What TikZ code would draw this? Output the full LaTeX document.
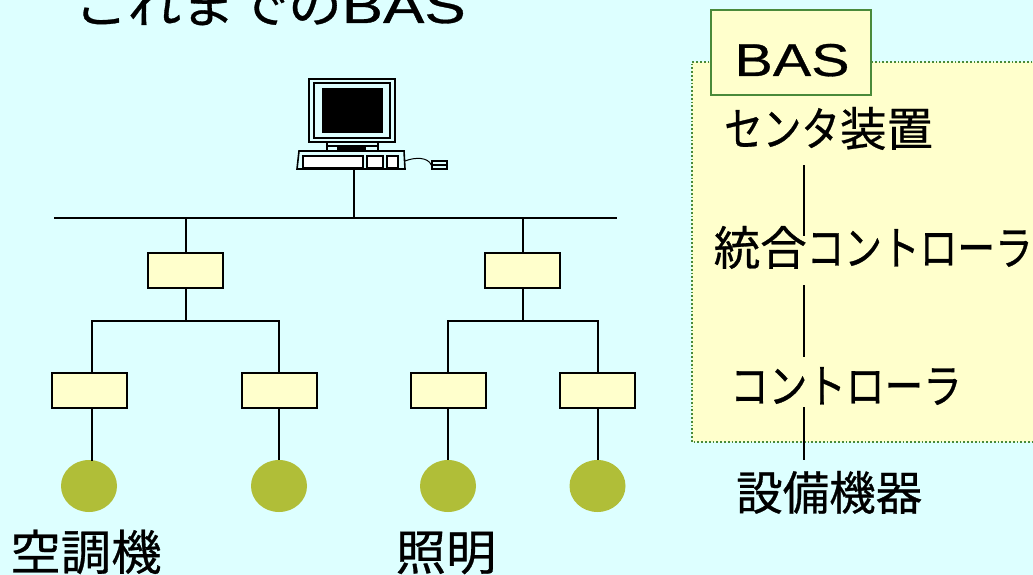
\documentclass[tikz,border=0pt]{standalone}
\usepackage{fontspec}
\setmainfont{Liberation Sans}[FakeBold=0.6,AutoFakeBold=false]
\newfontfamily\jpfont{Noto Sans CJK JP}[FakeBold=0.6]
\definecolor{bgc}{HTML}{DDFFFF}
\definecolor{panelc}{HTML}{FFFFCC}
\definecolor{grn}{HTML}{4A8A3A}
\definecolor{olive}{HTML}{B0BE38}
\newcommand{\kata}[1]{\scalebox{0.83}[1]{#1}}
\newcommand{\katb}[1]{\scalebox{0.81}[1]{#1}}
\tikzset{
 box/.style={draw=black,fill=panelc,line width=2pt,minimum width=75pt,minimum height=35pt,inner sep=0pt},
 dev/.style={ellipse,fill=olive,minimum width=56pt,minimum height=52pt,inner sep=0pt},
 wire/.style={line width=2pt,black},
 lbl/.style={inner sep=0pt,font=\jpfont\fontsize{46.5}{46.5}\selectfont},
 lblwide/.style={inner sep=0pt,font=\jpfont\fontsize{48}{48}\selectfont,xscale=1.05,transform shape},
 pc/.style={line width=1.6pt,black},
 key/.style={draw=black,line width=1.6pt,fill=white,minimum height=12pt,inner sep=0pt},
}
\usetikzlibrary{shapes.geometric,calc}
\begin{document}
\begin{tikzpicture}[x=1pt,y=-1pt]
\useasboundingbox (0,0) rectangle (1033,575);
\clip (0,0) rectangle (1033,575);
\fill[bgc] (0,0) rectangle (1033,575);
% title
\node[inner sep=0pt,anchor=base west,font=\jpfont\fontsize{50}{50}\selectfont] (title) at (74,23) {\scalebox{1.07}[1]{これまでの}\scalebox{1.24}[1]{\rmfamily BAS}};
% panel
\draw[grn,dotted,line width=1.8pt,fill=panelc] (1040,62) -- (692,62) -- (692,442) -- (1040,442);
\node[draw=grn,fill=panelc,line width=2pt,minimum width=160pt,minimum height=85pt,inner sep=0pt] (bas) at (791,52.5) {};
\node[inner sep=0pt,anchor=base,font=\rmfamily\fontsize{46}{46}\selectfont,xscale=1.25,transform shape] (bastxt) at (792,76) {BAS};
% computer
\draw[pc,fill=bgc] (309,79) rectangle (395,142);
\draw[pc,fill=bgc] (314,83) rectangle (390,138);
\fill[black] (322,88) rectangle (383,133);
\draw[pc,fill=bgc] (327,142) rectangle (378,151);
\draw[pc] (327,146) -- (378,146);
\fill[black] (337,146) rectangle (366,151);
\draw[pc,fill=bgc] (299,151) -- (404,151) -- (405,169) -- (297,169) -- cycle;
\node[key,minimum width=60pt] (k1) at (333,162) {};
\node[key,minimum width=16pt] (k2) at (375,162) {};
\node[key,minimum width=11pt] (k3) at (392.5,162) {};
\coordinate (kb) at (354,169);
\coordinate (kr) at (405,161);
\node[draw=black,line width=1.4pt,fill=bgc,minimum width=15pt,minimum height=8pt,inner sep=0pt] (mouse) at (439.5,165) {};
\draw[pc] (mouse.west) -- (mouse.east);
\draw[line width=1pt] (kr) .. controls (415,157) and (428,157) .. (mouse.west);
% bus
\coordinate (busL) at (54,218);
\coordinate (busR) at (617,218);
\coordinate (busC) at (354,218);
\coordinate (ja) at (185.5,321);
\coordinate (jb) at (522.5,321);
\coordinate (ta1) at (92,373);
\coordinate (ba1) at (92,408);
\coordinate (ea1) at (92,461);
\draw[wire] (busL) -- (busR);
\draw[wire] (kb) -- (busC);
% boxes
\node[box] (a) at (185.5,270) {};
\node[box] (b) at (522.5,270) {};
\node[box] (a1) at (89.5,390.5) {};
\node[box] (a2) at (279,390.5) {};
\node[box] (b1) at (448,390.5) {};
\node[box] (b2) at (597.5,390.5) {};
\node[dev] (d1) at (89,486) {};
\node[dev] (d2) at (279,486) {};
\node[dev] (d3) at (448,486) {};
\node[dev] (d4) at (597.5,486) {};
\draw[wire] (a.north) -- (a.north |- busL);
\draw[wire] (b.north) -- (b.north |- busL);
\draw[wire] (a.south) -- (ja);
\draw[wire] (b.south) -- (jb);
\draw[wire] (ta1) |- (ja) -| (a2.north);
\draw[wire] (b1.north) |- (jb) -| (b2.north);
\draw[wire] (ba1) -- (ea1);
\draw[wire] (a2.south) -- (d2.north);
\draw[wire] (b1.south) -- (d3.north);
\draw[wire] (b2.south) -- (d4.north);
% labels
\node[lblwide,anchor=base] (l1) at (86,570) {空調機};
\node[lblwide,anchor=base] (l2) at (446,570) {照明};
\node[lbl,anchor=base west] (r1) at (724,146) {\kata{センタ}装置};
\node[lbl,anchor=base west] (r2) at (713.5,265) {統合\katb{コントローラ}};
\node[lbl,anchor=base west] (r3) at (730,403) {\kata{コントローラ}};
\node[lbl,anchor=base west] (r4) at (736,510) {設備機器};
\coordinate (v1a) at (804,165);
\coordinate (v1b) at (804,236);
\coordinate (v2a) at (804,285);
\coordinate (v2b) at (804,357);
\coordinate (v3a) at (804,407);
\coordinate (v3b) at (804,460);
\draw[wire] (v1a) -- (v1b);
\draw[wire] (v2a) -- (v2b);
\draw[wire] (v3a) -- (v3b);
\end{tikzpicture}
\end{document}
